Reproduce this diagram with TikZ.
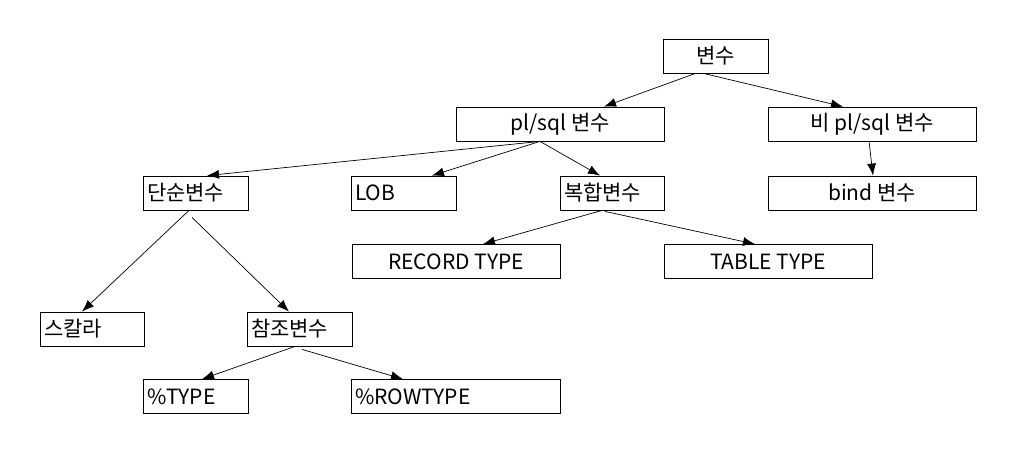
\documentclass[tikz,border=0pt]{standalone}
\usepackage{fontspec}
\setmainfont{Noto Sans CJK KR}
\usetikzlibrary{arrows.meta}
\begin{document}
\begin{tikzpicture}[x=1pt,y=-1pt,
  box/.style={draw, line width=0.8pt, minimum height=34pt, inner sep=0pt, font=\fontsize{21}{23}\selectfont},
  cbox/.style={box, minimum width=#1},
  lbox/.style={box, minimum width=#1, text width=#1-8pt, align=left, inner xsep=4pt},
  arr/.style={line width=0.7pt, -{Latex[length=12pt,width=9pt]}}]
\useasboundingbox (0,0) rectangle (1019,472);
\node[cbox=105pt] (v) at (715.5,56) {변수};
\node[cbox=208pt] (pl) at (560,124) {pl/sql 변수};
\node[cbox=208pt] (npl) at (872,124) {비 pl/sql 변수};
\node[lbox=105pt] (dan) at (195.5,193) {단순변수};
\node[lbox=105pt] (lob) at (403.5,193) {LOB};
\node[lbox=104pt] (bok) at (612,193) {복합변수};
\node[cbox=208pt] (bind) at (872,193) {bind 변수};
\node[cbox=208pt] (rec) at (456,261.5) {RECORD TYPE};
\node[cbox=208pt] (tab) at (768,261.5) {TABLE TYPE};
\node[lbox=104pt] (sk) at (92,329) {스칼라};
\node[lbox=105pt] (cham) at (299.5,329) {참조변수};
\node[lbox=105pt] (ptype) at (195.5,396.5) {\%TYPE};
\node[lbox=209pt] (prow) at (455.5,396.5) {\%ROWTYPE};
\draw[arr] ([xshift=-20pt]v.south) -- ([xshift=44pt]pl.north);
\draw[arr] ([xshift=-12pt]v.south) -- ([xshift=-29pt]npl.north);
\draw[arr] ([xshift=-20pt]pl.south) -- ([xshift=11.5pt]dan.north);
\draw[arr] ([xshift=-20pt]pl.south) -- ([xshift=28.5pt]lob.north);
\draw[arr] ([xshift=-20pt]pl.south) -- ([xshift=-12pt]bok.north);
\draw[arr] ([xshift=-3pt]npl.south) -- ([xshift=1pt]bind.north);
\draw[arr] ([xshift=-10pt]bok.south) -- ([xshift=27pt]rec.north);
\draw[arr] ([xshift=-7pt,yshift=-1pt]bok.south) -- ([xshift=-13pt]tab.north);
\draw[arr] ([xshift=-6.5pt]dan.south) -- ([xshift=-10pt]sk.north);
\draw[arr] ([xshift=-3.5pt,yshift=-7pt]dan.south) -- ([xshift=-10.5pt]cham.north);
\draw[arr] ([xshift=-4.5pt]cham.south) -- ([xshift=6.5pt]ptype.north);
\draw[arr] ([xshift=2.5pt,yshift=-3pt]cham.south) -- ([xshift=-52.5pt]prow.north);
\end{tikzpicture}
\end{document}
